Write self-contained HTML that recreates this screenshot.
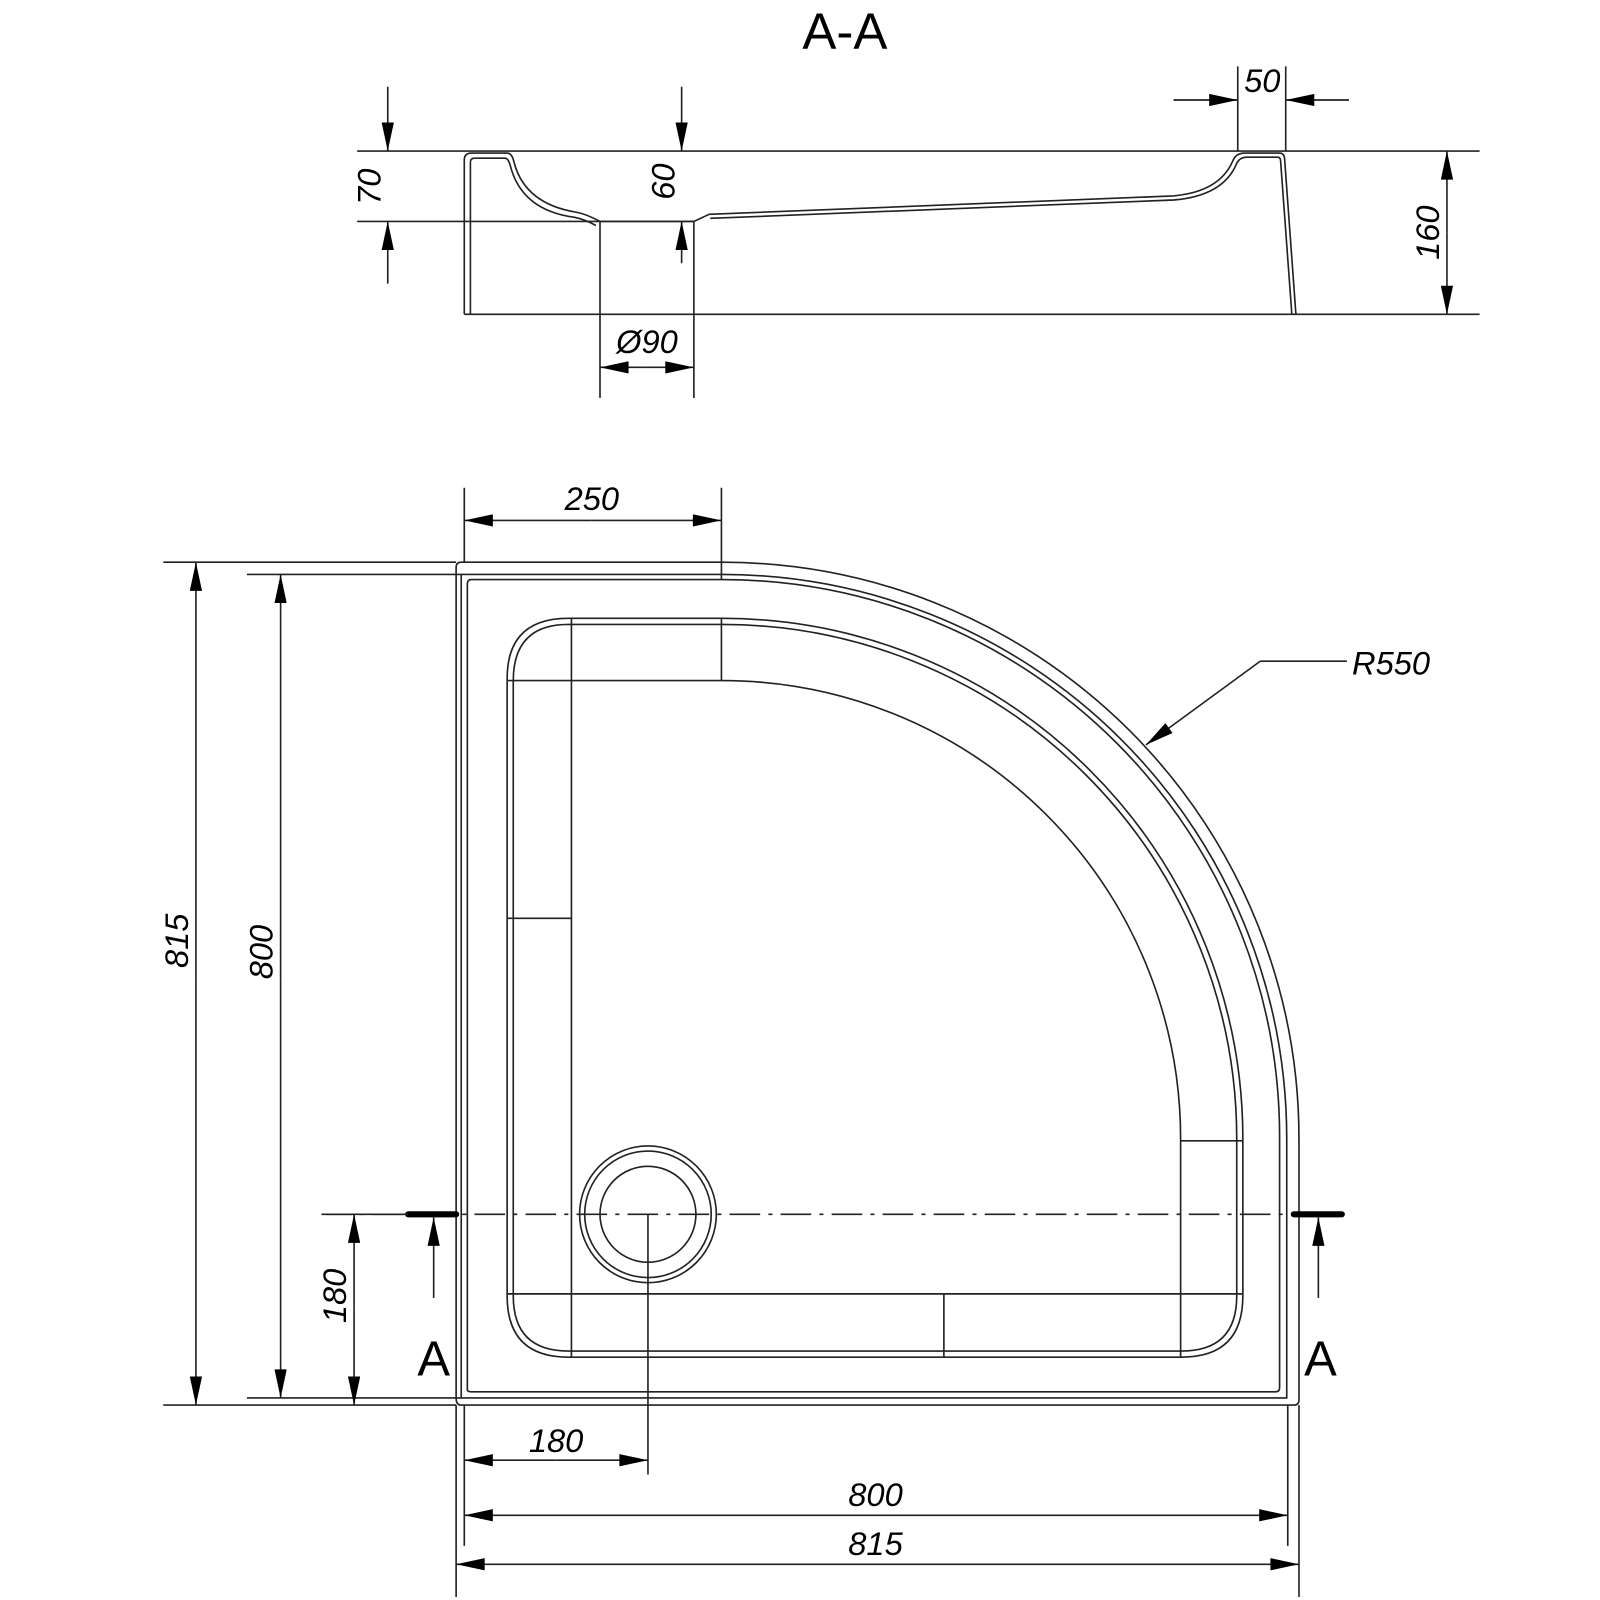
<!DOCTYPE html>
<html><head><meta charset="utf-8"><style>
html,body{margin:0;padding:0;background:#fff;}
svg{display:block;}
text{font-family:"Liberation Sans",sans-serif;font-style:italic;fill:#000;}
</style></head><body>
<svg width="1600" height="1600" viewBox="0 0 1568 1568" xmlns="http://www.w3.org/2000/svg">
<defs>
<marker id="ar" viewBox="0 0 14 6" refX="14" refY="3" markerWidth="30" markerHeight="12" markerUnits="userSpaceOnUse" orient="auto"><path d="M0,0 L14,3 L0,6 z" fill="#000"/></marker>
</defs>
<g fill="none" stroke="#222" stroke-width="1.6">
<line x1="350" y1="148" x2="1450" y2="148"/>
<line x1="350" y1="217" x2="680" y2="217"/>
<line x1="455" y1="308" x2="1450" y2="308"/>
<path d="M455,308 L455,157 Q455,150 462,150 L497,150 Q502,150 504,160 Q515,200 565,208 Q575,210 588,217 L680,217 L695,210 L1150,192 Q1195,188 1208,158 Q1211,150 1220,150 L1254,150 Q1259,150 1259,157 L1270,308"/>
<path d="M461,308 L461,159 Q461,155 465,155 L495,155 Q498,155 500,162 Q511,206 563,213 Q573,215 584,221 M696,214 L1150,196 Q1199,192 1212,160 Q1215,154 1222,154 L1252,154 Q1255,154 1255,158 L1266,308"/>
<line x1="380" y1="85" x2="380" y2="148" marker-end="url(#ar)"/>
<line x1="380" y1="278" x2="380" y2="217" marker-end="url(#ar)"/>
<line x1="668" y1="85" x2="668" y2="148" marker-end="url(#ar)"/>
<line x1="668" y1="258" x2="668" y2="217" marker-end="url(#ar)"/>
<line x1="1418" y1="228" x2="1418" y2="148" marker-end="url(#ar)"/>
<line x1="1418" y1="228" x2="1418" y2="308" marker-end="url(#ar)"/>
<line x1="1213" y1="65" x2="1213" y2="148"/>
<line x1="1260" y1="65" x2="1260" y2="148"/>
<line x1="1150" y1="98" x2="1213" y2="98" marker-end="url(#ar)"/>
<line x1="1322" y1="98" x2="1260" y2="98" marker-end="url(#ar)"/>
<line x1="588" y1="217" x2="588" y2="390"/>
<line x1="680" y1="217" x2="680" y2="390"/>
<line x1="634" y1="360" x2="588" y2="360" marker-end="url(#ar)"/>
<line x1="634" y1="360" x2="680" y2="360" marker-end="url(#ar)"/>

<path d="M447,1370 L447,556 Q447,551 452,551 L708,551 A565,565 0 0 1 1273,1116 L1273,1372 Q1273,1377 1268,1377 L452,1377 Q447,1377 447,1370 z"/>
<path d="M452,1365 L452,563 L708,563 A553,553 0 0 1 1261,1116 L1261,1370 L452,1370 z"/>
<path d="M458,1362 L458,572 Q458,568 462,568 L708,568 A546,546 0 0 1 1254,1116 L1254,1360 Q1254,1364 1250,1364 L462,1364 Q458,1364 458,1362 z"/>
<path d="M497,665 Q497,606 557,606 L708,606 A510,510 0 0 1 1218,1116 L1218,1270 Q1218,1330 1158,1330 L557,1330 Q497,1330 497,1270 z"/>
<path d="M503,667 Q503,612 557,612 L708,612 A504,504 0 0 1 1212,1116 L1212,1270 Q1212,1324 1158,1324 L557,1324 Q503,1324 503,1270 z"/>
<path d="M497,667 L708,667 A449,449 0 0 1 1157,1116 L1157,1330"/>
<line x1="560" y1="606" x2="560" y2="1330"/>
<line x1="497" y1="1268" x2="1218" y2="1268"/>
<line x1="707" y1="606" x2="707" y2="667"/>
<line x1="497" y1="900" x2="560" y2="900"/>
<line x1="1157" y1="1118" x2="1218" y2="1118"/>
<line x1="925" y1="1268" x2="925" y2="1330"/>
<circle cx="635" cy="1190" r="67"/>
<circle cx="635" cy="1190" r="62"/>
<circle cx="635" cy="1190" r="47"/>
<line x1="315" y1="1190" x2="1268" y2="1190" stroke-dasharray="30,8,4,8"/>
<line x1="400" y1="1190" x2="447" y2="1190" stroke-width="6" stroke="#000" stroke-linecap="round"/>
<line x1="1268" y1="1190" x2="1315" y2="1190" stroke-width="6" stroke="#000" stroke-linecap="round"/>
<line x1="425" y1="1272" x2="425" y2="1193" marker-end="url(#ar)"/>
<line x1="1292" y1="1272" x2="1292" y2="1193" marker-end="url(#ar)"/>
<line x1="160" y1="551" x2="447" y2="551"/>
<line x1="160" y1="1377" x2="447" y2="1377"/>
<line x1="242" y1="563" x2="452" y2="563"/>
<line x1="242" y1="1370" x2="452" y2="1370"/>
<line x1="320" y1="1190" x2="400" y2="1190"/>
<line x1="192" y1="960" x2="192" y2="551" marker-end="url(#ar)"/>
<line x1="192" y1="960" x2="192" y2="1377" marker-end="url(#ar)"/>
<line x1="275" y1="960" x2="275" y2="563" marker-end="url(#ar)"/>
<line x1="275" y1="960" x2="275" y2="1370" marker-end="url(#ar)"/>
<line x1="347" y1="1280" x2="347" y2="1190" marker-end="url(#ar)"/>
<line x1="347" y1="1280" x2="347" y2="1377" marker-end="url(#ar)"/>
<line x1="455" y1="478" x2="455" y2="551"/>
<line x1="707" y1="478" x2="707" y2="568"/>
<line x1="580" y1="510" x2="455" y2="510" marker-end="url(#ar)"/>
<line x1="580" y1="510" x2="707" y2="510" marker-end="url(#ar)"/>
<line x1="447" y1="1377" x2="447" y2="1565"/>
<line x1="455" y1="1377" x2="455" y2="1515"/>
<line x1="1262" y1="1377" x2="1262" y2="1515"/>
<line x1="1273" y1="1377" x2="1273" y2="1565"/>
<line x1="635" y1="1190" x2="635" y2="1445"/>
<line x1="545" y1="1431" x2="455" y2="1431" marker-end="url(#ar)"/>
<line x1="545" y1="1431" x2="635" y2="1431" marker-end="url(#ar)"/>
<line x1="858" y1="1485" x2="455" y2="1485" marker-end="url(#ar)"/>
<line x1="858" y1="1485" x2="1262" y2="1485" marker-end="url(#ar)"/>
<line x1="858" y1="1533" x2="447" y2="1533" marker-end="url(#ar)"/>
<line x1="858" y1="1533" x2="1273" y2="1533" marker-end="url(#ar)"/>
<line x1="1320" y1="648" x2="1235" y2="648"/>
<line x1="1235" y1="648" x2="1123" y2="730" marker-end="url(#ar)"/>
</g>
<text x="828" y="48" font-size="50" text-anchor="middle" style="font-style:normal">A-A</text>
<text x="425" y="1348" font-size="48" text-anchor="middle" style="font-style:normal">A</text>
<text x="1294" y="1348" font-size="48" text-anchor="middle" style="font-style:normal">A</text>
<g font-size="32">
<text x="1237" y="90" text-anchor="middle">50</text>
<text x="634" y="346" text-anchor="middle">Ø90</text>
<text x="580" y="500" text-anchor="middle">250</text>
<text x="1325" y="661">R550</text>
<text x="545" y="1423" text-anchor="middle">180</text>
<text x="858" y="1476" text-anchor="middle">800</text>
<text x="858" y="1524" text-anchor="middle">815</text>
<text transform="translate(373,183) rotate(-90)" text-anchor="middle">70</text>
<text transform="translate(661,178) rotate(-90)" text-anchor="middle">60</text>
<text transform="translate(1410,228) rotate(-90)" text-anchor="middle">160</text>
<text transform="translate(184,922) rotate(-90)" text-anchor="middle">815</text>
<text transform="translate(267,933) rotate(-90)" text-anchor="middle">800</text>
<text transform="translate(339,1270) rotate(-90)" text-anchor="middle">180</text>
</g>
</svg>
</body></html>
